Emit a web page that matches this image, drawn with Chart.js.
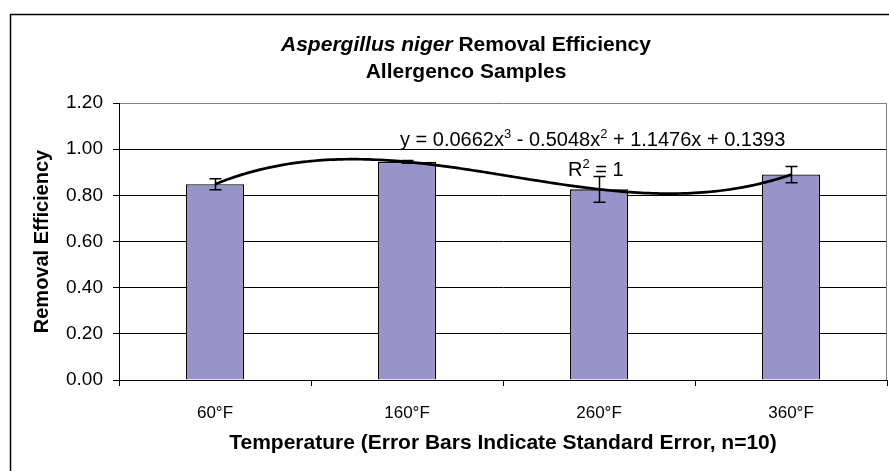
<!DOCTYPE html>
<html>
<head>
<meta charset="utf-8">
<script src="https://cdn.jsdelivr.net/npm/chart.js@4.4.0/dist/chart.umd.min.js"></script>
<style>
  html, body { margin: 0; padding: 0; background: #fff; }
  #wrap { width: 889px; height: 471px; }
</style>
</head>
<body>
<div id="wrap"><canvas id="effChart" width="889" height="471"></canvas></div>
<script>
// data
const categories = ['60°F', '160°F', '260°F', '360°F'];
const efficiency = [0.848, 0.945, 0.826, 0.890];
const stdError = [0.024, 0.006, 0.056, 0.035];
const yTicks = [0, 0.2, 0.4, 0.6, 0.8, 1.0, 1.2];
// 3rd order polynomial trendline, highest power first
const trendCoef = [0.0662, -0.5048, 1.1476, 0.1393];
const trendR2 = 1;

const FONT = '"Liberation Sans", Arial, sans-serif';

(function () {
    'use strict';

    const polyAt = t => trendCoef.reduce((acc, c) => acc * t + c, 0);

    // outer frame + white background
    const framePlugin = {
        id: 'frame',
        beforeDraw(chart) {
            const ctx = chart.ctx;
            ctx.save();
            ctx.fillStyle = '#fff';
            ctx.fillRect(0, 0, chart.width, chart.height);
            ctx.strokeStyle = '#000';
            ctx.lineWidth = 1.5;
            ctx.strokeRect(10.5, 14.5, chart.width + 20, chart.height + 20);
            ctx.restore();
        }
    };

    // error bars, trendline, equation, plot border, chart title
    const overlayPlugin = {
        id: 'overlay',
        afterDatasetsDraw(chart) {
            const ctx = chart.ctx;
            const xs = chart.scales.x, ys = chart.scales.y;
            const area = chart.chartArea;
            ctx.save();

            // right edge of plot area
            ctx.strokeStyle = '#808080';
            ctx.lineWidth = 1;
            ctx.beginPath();
            ctx.moveTo(area.right - 0.5, area.top);
            ctx.lineTo(area.right - 0.5, area.bottom);
            ctx.stroke();

            // error bars
            ctx.strokeStyle = '#000';
            ctx.lineWidth = 1.5;
            efficiency.forEach((v, i) => {
                const x = Math.round(xs.getPixelForValue(i)) + 0.5;
                const yHi = ys.getPixelForValue(v + stdError[i]);
                const yLo = ys.getPixelForValue(v - stdError[i]);
                ctx.beginPath();
                ctx.moveTo(x, yHi); ctx.lineTo(x, yLo);
                ctx.moveTo(x - 6, yHi); ctx.lineTo(x + 6, yHi);
                ctx.moveTo(x - 6, yLo); ctx.lineTo(x + 6, yLo);
                ctx.stroke();
            });

            // trendline, from first to last category
            ctx.lineWidth = 2.7;
            ctx.lineJoin = 'round';
            ctx.beginPath();
            const n = efficiency.length;
            for (let t = 1; t <= n + 1e-9; t += 0.02) {
                const px = xs.getPixelForValue(t - 1);
                const py = ys.getPixelForValue(polyAt(t));
                if (t === 1) ctx.moveTo(px, py); else ctx.lineTo(px, py);
            }
            ctx.stroke();

            // equation text with superscripts
            const c = trendCoef;
            const sgn = v => (v < 0 ? ' - ' : ' + ') + Math.abs(v).toFixed(4);
            const parts = [
                ['y = ' + c[0].toFixed(4) + 'x', false], ['3', true],
                [sgn(c[1]) + 'x', false], ['2', true],
                [sgn(c[2]) + 'x' + sgn(c[3]), false]
            ];
            const drawRuns = (runs, x, y) => {
                runs.forEach(([txt, sup]) => {
                    ctx.font = (sup ? '13px ' : '20px ') + FONT;
                    ctx.fillText(txt, x, sup ? y - 8 : y);
                    x += ctx.measureText(txt).width;
                });
            };
            ctx.fillStyle = '#000';
            ctx.textBaseline = 'alphabetic';
            ctx.textAlign = 'left';
            drawRuns(parts, 400, 146);
            drawRuns([['R', false], ['2', true], [' = ' + trendR2, false]], 568, 176);

            ctx.restore();
        },
        afterDraw(chart) {
            const ctx = chart.ctx;
            ctx.save();
            ctx.fillStyle = '#000';
            ctx.textBaseline = 'middle';
            ctx.textAlign = 'left';
            const cx = 466;
            const a = 'Aspergillus niger', b = ' Removal Efficiency';
            ctx.font = 'italic bold 21px ' + FONT;
            const wa = ctx.measureText(a).width;
            ctx.font = 'bold 21px ' + FONT;
            const wb = ctx.measureText(b).width;
            const x = cx - (wa + wb) / 2;
            ctx.font = 'italic bold 21px ' + FONT;
            ctx.fillText(a, x, 45);
            ctx.font = 'bold 21px ' + FONT;
            ctx.fillText(b, x + wa, 45);
            ctx.textAlign = 'center';
            ctx.fillText('Allergenco Samples', cx, 72);
            ctx.restore();
        }
    };

    new Chart(document.getElementById('effChart'), {
        type: 'bar',
        data: {
            labels: categories,
            datasets: [{
                data: efficiency,
                backgroundColor: '#9894C9',
                borderColor: '#000',
                borderWidth: 1.3,
                categoryPercentage: 1,
                barPercentage: 0.302
            }]
        },
        options: {
            responsive: false,
            animation: false,
            devicePixelRatio: 1,
            layout: { padding: { left: 0, top: 103, right: 2, bottom: 0 } },
            plugins: { legend: { display: false }, tooltip: { enabled: false }, title: { display: false } },
            scales: {
                x: {
                    afterFit: s => { s.height = 91; },
                    grid: { display: true, drawOnChartArea: false, drawTicks: true, tickLength: 6, color: '#000', offset: true },
                    border: { color: '#000', width: 1 },
                    ticks: { color: '#000', padding: 17, font: { family: FONT, size: 17 } },
                    title: {
                        display: true,
                        text: 'Temperature (Error Bars Indicate Standard Error, n=10)',
                        color: '#000',
                        font: { family: FONT, size: 21, weight: 'bold' },
                        padding: { top: 0, bottom: 15 }
                    }
                },
                y: {
                    min: 0,
                    max: 1.2,
                    afterFit: s => { s.width = 119; },
                    afterBuildTicks: s => { s.ticks = yTicks.map(v => ({ value: v })); },
                    grid: {
                        color: ctx => (ctx.tick && ctx.tick.value >= 1.2 ? '#808080' : '#000'),
                        tickColor: '#000',
                        tickLength: 6,
                        lineWidth: 1
                    },
                    border: { color: '#000', width: 1 },
                    ticks: {
                        color: '#000',
                        padding: 10,
                        font: { family: FONT, size: 19 },
                        callback: v => Number(v).toFixed(2)
                    },
                    title: {
                        display: true,
                        text: 'Removal Efficiency',
                        color: '#000',
                        font: { family: FONT, size: 20, weight: 'bold' },
                        padding: { top: 30, bottom: 0 }
                    }
                }
            }
        },
        plugins: [framePlugin, overlayPlugin]
    });
})();
</script>
</body>
</html>
